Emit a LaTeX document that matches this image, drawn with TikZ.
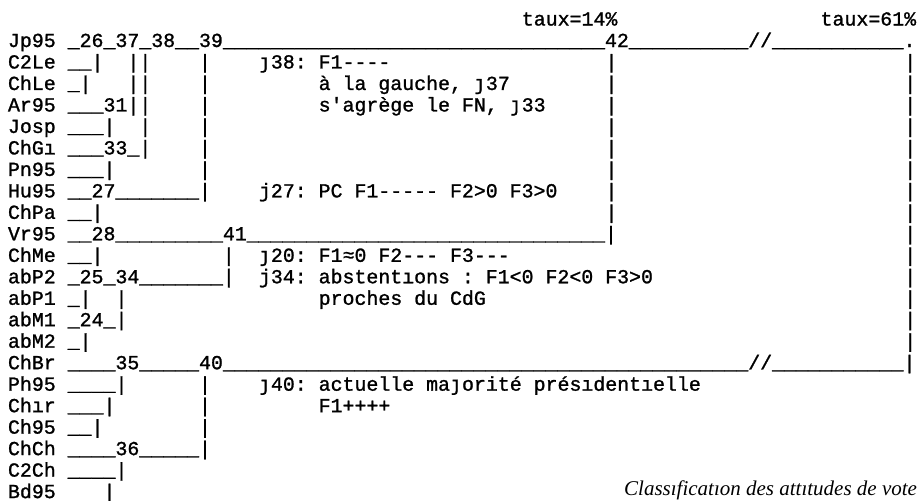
\documentclass[tikz,border=0pt]{standalone}
\usepackage{fontspec}
\setmonofont{Liberation Mono}[FakeBold=1.2, WordSpace={1,0,0}]
\newfontfamily\jfont{DejaVu Sans Mono}[FakeBold=1.0]
\newfontfamily\capfont{Liberation Serif}
\newcommand\Jx{{\jfont ȷ}}
\ExplSyntaxOn
\cs_new:Npn \Rep #1#2 { \prg_replicate:nn {#1} {#2} }
\ExplSyntaxOff
\tikzset{
  tt/.style={anchor=base west, inner sep=0pt, outer sep=0pt, text=black,
    font=\ttfamily\fontsize{19.9}{21.5}\selectfont},
  captxt/.style={anchor=base east, inner sep=0pt, outer sep=0pt, text=black,
    font=\capfont\itshape\fontsize{21}{22}\selectfont},
}
\newcommand\RowText[4]{\node[tt] (#1) at ({8pt+#3*11.95pt},{-47pt-#2*21.48pt}) {#4};}
\begin{document}
\begin{tikzpicture}
\useasboundingbox[fill=white] (0pt,0pt) rectangle (922pt,-501pt);
% header
\RowText{tauxA}{-1}{43}{taux=14\%}
\RowText{tauxB}{-1}{68}{taux=61\%}
% dendrogram rows
\RowText{r0}{0}{0}{Jp95~\_26\_37\_38\_\_39\Rep{32}{\_}42\Rep{10}{\_}//\Rep{11}{\_}.}
\RowText{r1}{1}{0}{C2Le~\_\_|~~||~~~~|}
\RowText{r2}{2}{0}{ChLe~\_|~~~||~~~~|}
\RowText{r3}{3}{0}{Ar95~\_\_\_31||~~~~|}
\RowText{r4}{4}{0}{Josp~\_\_\_|~~|~~~~|}
\RowText{r5}{5}{0}{ChGı~\_\_\_33\_|~~~~|}
\RowText{r6}{6}{0}{Pn95~\_\_\_|~~~~~~~|}
\RowText{r7}{7}{0}{Hu95~\_\_27\_\_\_\_\_\_\_|}
\RowText{r8}{8}{0}{ChPa~\_\_|}
\RowText{r9}{9}{0}{Vr95~\_\_28\Rep{9}{\_}41\Rep{30}{\_}|}
\RowText{r10}{10}{0}{ChMe~\_\_|~~~~~~~~~~|}
\RowText{r11}{11}{0}{abP2~\_25\_34\Rep{7}{\_}|}
\RowText{r12}{12}{0}{abP1~\_|~~|}
\RowText{r13}{13}{0}{abM1~\_24\_|}
\RowText{r14}{14}{0}{abM2~\_|}
\RowText{r15}{15}{0}{ChBr~\_\_\_\_35\_\_\_\_\_40\Rep{44}{\_}//\Rep{11}{\_}|}
\RowText{r16}{16}{0}{Ph95~\_\_\_\_|~~~~~~|}
\RowText{r17}{17}{0}{Chır~\_\_\_|~~~~~~~|}
\RowText{r18}{18}{0}{Ch95~\_\_|~~~~~~~~|}
\RowText{r19}{19}{0}{ChCh~\_\_\_\_36\_\_\_\_\_|}
\RowText{r20}{20}{0}{C2Ch~\_\_\_\_|}
\RowText{r21}{21}{0}{Bd95~~~~|}
% right-hand bars
\foreach \r in {1,...,8} {\RowText{bA\r}{\r}{50}{|}}
\foreach \r in {1,...,14} {\RowText{bB\r}{\r}{75}{|}}
% annotations
\RowText{a38}{1}{21}{\Jx38:~F1----}
\RowText{a38b}{2}{26}{à~la~gauche,~\Jx37}
\RowText{a38c}{3}{26}{s'agrège~le~FN,~\Jx33}
\RowText{a27}{7}{21}{j27:~PC~F1-----~F2>0~F3>0}
\RowText{a20}{10}{21}{\Jx20:~F1≈0~F2---~F3---}
\RowText{a34}{11}{21}{j34:~abstentıons~:~F1<0~F2<0~F3>0}
\RowText{a34b}{12}{26}{proches~du~CdG}
\RowText{a40}{16}{21}{\Jx40:~actuelle~ma\Jx orité~présıdentıelle}
\RowText{a40b}{17}{26}{F1++++}
% caption
\node[captxt] (cap) at (917pt,-495pt) {Classıficatıon des attıtudes de vote};
\end{tikzpicture}
\end{document}
